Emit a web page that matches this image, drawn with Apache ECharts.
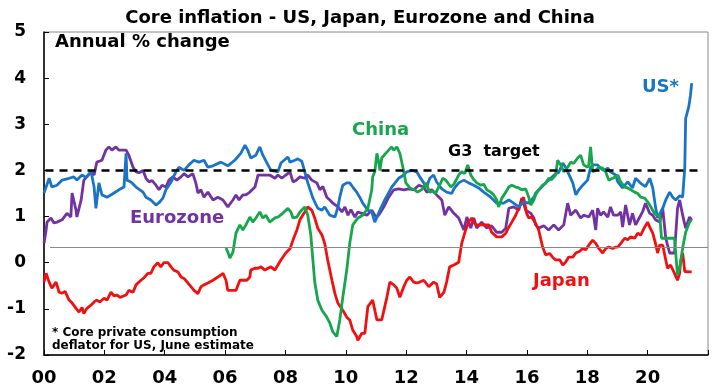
<!DOCTYPE html>
<html><head><meta charset="utf-8">
<script src="https://cdn.jsdelivr.net/npm/echarts@6/dist/echarts.min.js"></script>
<style>html,body{margin:0;padding:0;background:#fff}#c{width:720px;height:388px}</style>
</head><body><div id="c"></div>
<script>
const titleText = 'Core inflation - US, Japan, Eurozone and China';
const yTicks = [-2, -1, 0, 1, 2, 3, 4, 5];
const xTickYears = [2000, 2002, 2004, 2006, 2008, 2010, 2012, 2014, 2016, 2018, 2020];
const targetLevel = 2;
const refLevel = 0.33;

const usData = [[2000.00,1.51],[2000.17,1.83],[2000.26,1.64],[2000.43,1.68],[2000.60,1.79],[2000.83,1.83],[2000.99,1.86],[2001.09,1.79],[2001.26,1.90],[2001.39,1.85],[2001.56,1.97],[2001.66,1.64],[2001.72,1.18],[2001.82,1.73],[2001.92,1.47],[2002.09,1.42],[2002.32,1.51],[2002.48,1.58],[2002.65,1.64],[2002.72,2.37],[2002.75,1.79],[2002.88,1.75],[2003.05,1.64],[2003.28,1.53],[2003.38,1.42],[2003.54,1.36],[2003.71,1.25],[2003.81,1.30],[2003.94,1.40],[2004.04,1.58],[2004.21,1.75],[2004.37,1.97],[2004.47,2.07],[2004.64,2.00],[2004.80,2.12],[2004.97,2.22],[2005.13,2.18],[2005.30,2.22],[2005.43,2.07],[2005.60,2.10],[2005.86,2.18],[2006.09,2.10],[2006.32,2.22],[2006.52,2.37],[2006.66,2.55],[2006.75,2.44],[2006.85,2.27],[2007.02,2.33],[2007.15,2.51],[2007.25,2.33],[2007.42,2.12],[2007.52,2.00],[2007.75,1.97],[2007.85,2.16],[2008.08,2.29],[2008.15,2.18],[2008.31,2.22],[2008.41,2.25],[2008.54,2.20],[2008.64,1.97],[2008.74,1.73],[2008.91,1.40],[2009.07,1.18],[2009.21,1.14],[2009.30,1.21],[2009.47,1.03],[2009.64,0.99],[2009.74,1.21],[2009.80,1.42],[2009.90,1.68],[2010.03,1.73],[2010.13,1.73],[2010.23,1.64],[2010.36,1.53],[2010.46,1.42],[2010.56,1.29],[2010.73,1.14],[2010.86,1.10],[2010.96,0.88],[2011.13,1.14],[2011.29,1.36],[2011.52,1.64],[2011.75,1.83],[2011.92,1.90],[2012.02,1.97],[2012.19,2.00],[2012.35,1.97],[2012.45,1.86],[2012.58,1.73],[2012.68,1.64],[2012.78,1.83],[2012.91,1.90],[2013.01,1.75],[2013.18,1.60],[2013.34,1.53],[2013.51,1.50],[2013.58,1.60],[2013.74,1.73],[2013.91,1.79],[2014.07,1.73],[2014.24,1.68],[2014.40,1.62],[2014.57,1.53],[2014.80,1.42],[2015.00,1.29],[2015.23,1.29],[2015.40,1.36],[2015.56,1.29],[2015.73,1.21],[2015.89,1.32],[2016.06,1.29],[2016.23,1.42],[2016.29,1.51],[2016.46,1.62],[2016.62,1.73],[2016.79,1.83],[2016.95,1.93],[2017.05,1.95],[2017.19,2.16],[2017.28,2.07],[2017.38,1.93],[2017.52,1.73],[2017.62,1.47],[2017.72,1.58],[2017.85,1.68],[2018.01,1.79],[2018.11,2.07],[2018.21,2.12],[2018.34,2.12],[2018.44,2.05],[2018.54,2.00],[2018.68,2.05],[2018.77,1.97],[2018.94,1.90],[2019.01,1.75],[2019.17,1.62],[2019.34,1.75],[2019.50,1.62],[2019.60,1.83],[2019.77,1.72],[2019.93,1.65],[2020.07,1.83],[2020.17,1.62],[2020.26,1.21],[2020.33,0.97],[2020.50,1.18],[2020.60,1.36],[2020.73,1.53],[2020.83,1.42],[2020.93,1.36],[2021.06,1.45],[2021.16,1.42],[2021.23,2.05],[2021.26,3.13],[2021.36,3.37],[2021.42,3.63],[2021.46,3.89]];

const euroData = [[2000.00,0.42],[2000.07,0.71],[2000.10,0.88],[2000.23,0.97],[2000.33,0.86],[2000.43,0.88],[2000.60,0.93],[2000.76,1.07],[2000.89,0.99],[2000.93,1.51],[2001.06,1.14],[2001.09,0.99],[2001.23,1.36],[2001.32,1.79],[2001.42,1.86],[2001.56,1.97],[2001.66,1.90],[2001.75,2.18],[2001.92,2.22],[2002.05,2.44],[2002.15,2.51],[2002.25,2.44],[2002.38,2.51],[2002.48,2.44],[2002.65,2.44],[2002.72,2.44],[2002.81,2.33],[2002.95,2.07],[2003.05,1.97],[2003.15,1.95],[2003.28,2.00],[2003.38,1.83],[2003.48,1.75],[2003.58,1.78],[2003.71,1.68],[2003.81,1.58],[2003.91,1.68],[2004.04,1.64],[2004.14,1.79],[2004.27,1.86],[2004.40,1.79],[2004.54,1.86],[2004.64,1.93],[2004.77,1.86],[2004.93,1.93],[2005.03,1.73],[2005.10,1.51],[2005.20,1.58],[2005.30,1.42],[2005.43,1.53],[2005.60,1.36],[2005.76,1.42],[2005.93,1.36],[2006.09,1.21],[2006.26,1.36],[2006.36,1.47],[2006.46,1.36],[2006.59,1.47],[2006.69,1.47],[2006.82,1.53],[2006.99,1.64],[2007.09,1.90],[2007.25,1.90],[2007.48,1.90],[2007.65,1.83],[2007.75,1.90],[2007.88,1.83],[2008.01,1.90],[2008.15,1.97],[2008.25,1.75],[2008.34,1.78],[2008.48,1.86],[2008.64,1.83],[2008.74,1.90],[2008.87,1.79],[2009.04,1.73],[2009.14,1.58],[2009.24,1.65],[2009.37,1.42],[2009.47,1.36],[2009.57,1.29],[2009.74,1.21],[2009.87,1.10],[2009.97,1.21],[2010.07,1.03],[2010.17,1.15],[2010.30,0.99],[2010.40,1.10],[2010.53,1.07],[2010.70,1.03],[2010.86,1.14],[2010.96,1.03],[2011.03,0.99],[2011.13,1.07],[2011.26,1.21],[2011.42,1.42],[2011.59,1.58],[2011.75,1.60],[2011.92,1.58],[2012.09,1.60],[2012.25,1.58],[2012.42,1.68],[2012.58,1.64],[2012.68,1.53],[2012.85,1.58],[2013.01,1.47],[2013.18,1.36],[2013.28,1.03],[2013.41,1.21],[2013.58,1.07],[2013.74,0.97],[2013.91,0.71],[2014.01,0.99],[2014.14,0.75],[2014.24,0.97],[2014.34,0.75],[2014.50,0.88],[2014.67,0.75],[2014.83,0.80],[2015.00,0.66],[2015.17,0.66],[2015.30,0.75],[2015.40,1.18],[2015.56,1.21],[2015.73,1.14],[2015.83,1.40],[2015.96,1.14],[2016.13,1.07],[2016.23,0.97],[2016.29,0.82],[2016.39,0.75],[2016.56,0.80],[2016.72,0.71],[2016.89,0.82],[2017.05,0.71],[2017.22,0.82],[2017.35,1.29],[2017.45,1.03],[2017.62,1.14],[2017.78,0.97],[2017.88,1.03],[2018.05,0.99],[2018.18,1.14],[2018.28,0.71],[2018.34,1.18],[2018.44,1.03],[2018.54,1.10],[2018.68,0.99],[2018.77,1.21],[2018.87,1.03],[2019.01,1.03],[2019.11,1.10],[2019.17,0.77],[2019.27,1.25],[2019.40,0.82],[2019.50,1.07],[2019.60,0.82],[2019.74,0.99],[2019.83,1.10],[2019.93,1.29],[2020.07,1.07],[2020.17,1.03],[2020.26,0.93],[2020.40,0.88],[2020.50,1.18],[2020.60,0.53],[2020.73,0.21],[2020.89,0.21],[2020.99,1.18],[2021.06,1.36],[2021.16,1.03],[2021.26,0.75],[2021.39,0.99],[2021.46,0.92]];

const japanData = [[2000.00,-0.42],[2000.07,-0.23],[2000.17,-0.42],[2000.26,-0.55],[2000.40,-0.42],[2000.50,-0.64],[2000.60,-0.66],[2000.70,-0.62],[2000.83,-0.81],[2000.93,-0.87],[2001.06,-0.99],[2001.16,-1.07],[2001.26,-0.97],[2001.32,-1.10],[2001.42,-0.99],[2001.56,-0.92],[2001.66,-0.85],[2001.75,-0.81],[2001.85,-0.85],[2001.99,-0.77],[2002.09,-0.81],[2002.22,-0.64],[2002.32,-0.72],[2002.42,-0.70],[2002.52,-0.75],[2002.72,-0.70],[2002.81,-0.60],[2002.95,-0.64],[2003.05,-0.48],[2003.21,-0.38],[2003.31,-0.33],[2003.44,-0.23],[2003.54,-0.23],[2003.64,-0.09],[2003.77,0.00],[2003.87,-0.09],[2003.97,0.00],[2004.11,0.00],[2004.21,-0.09],[2004.30,-0.16],[2004.44,-0.20],[2004.54,-0.31],[2004.64,-0.34],[2004.77,-0.44],[2004.87,-0.52],[2004.97,-0.60],[2005.10,-0.67],[2005.20,-0.52],[2005.30,-0.48],[2005.43,-0.44],[2005.60,-0.38],[2005.76,-0.31],[2005.93,-0.23],[2006.03,-0.38],[2006.09,-0.60],[2006.26,-0.60],[2006.36,-0.60],[2006.49,-0.38],[2006.59,-0.38],[2006.72,-0.38],[2006.82,-0.31],[2006.85,-0.16],[2006.99,-0.12],[2007.09,-0.12],[2007.19,-0.09],[2007.32,-0.16],[2007.42,-0.12],[2007.52,-0.09],[2007.65,-0.16],[2007.75,-0.05],[2007.85,0.06],[2008.01,0.21],[2008.15,0.30],[2008.25,0.49],[2008.38,0.71],[2008.48,0.93],[2008.64,1.10],[2008.74,1.21],[2008.87,1.14],[2008.97,0.97],[2009.07,0.75],[2009.21,0.60],[2009.30,0.42],[2009.40,0.06],[2009.54,-0.38],[2009.64,-0.67],[2009.74,-0.88],[2009.90,-1.03],[2010.03,-1.18],[2010.13,-1.24],[2010.23,-1.46],[2010.36,-1.60],[2010.40,-1.68],[2010.53,-1.53],[2010.63,-1.53],[2010.73,-0.95],[2010.89,-0.81],[2011.03,-1.24],[2011.19,-1.24],[2011.36,-0.75],[2011.46,-0.42],[2011.59,-0.48],[2011.69,-0.55],[2011.79,-0.75],[2011.92,-0.52],[2012.02,-0.38],[2012.12,-0.31],[2012.25,-0.42],[2012.35,-0.44],[2012.45,-0.42],[2012.58,-0.38],[2012.75,-0.52],[2012.91,-0.42],[2013.01,-0.46],[2013.11,-0.75],[2013.25,-0.64],[2013.34,-0.42],[2013.44,-0.09],[2013.58,-0.05],[2013.74,0.01],[2013.84,0.42],[2013.97,0.71],[2014.07,0.88],[2014.17,0.97],[2014.30,0.82],[2014.57,0.82],[2014.74,0.82],[2014.83,0.66],[2015.00,0.56],[2015.17,0.56],[2015.30,0.64],[2015.40,0.77],[2015.50,0.88],[2015.63,1.03],[2015.73,1.18],[2015.83,1.36],[2015.89,1.42],[2015.99,1.07],[2016.06,0.97],[2016.16,0.99],[2016.29,0.85],[2016.39,0.71],[2016.52,0.34],[2016.62,0.17],[2016.75,0.20],[2016.85,0.12],[2016.95,0.06],[2017.09,0.06],[2017.19,-0.05],[2017.28,0.01],[2017.38,0.12],[2017.52,0.12],[2017.62,0.21],[2017.75,0.25],[2017.85,0.31],[2017.95,0.28],[2018.05,0.38],[2018.18,0.49],[2018.28,0.42],[2018.38,0.31],[2018.51,0.21],[2018.61,0.31],[2018.71,0.34],[2018.84,0.31],[2018.94,0.34],[2019.01,0.34],[2019.11,0.42],[2019.24,0.53],[2019.34,0.50],[2019.44,0.56],[2019.57,0.53],[2019.67,0.64],[2019.77,0.60],[2019.90,0.77],[2020.00,0.88],[2020.07,0.77],[2020.17,0.64],[2020.26,0.42],[2020.33,0.21],[2020.40,0.38],[2020.50,0.38],[2020.60,0.06],[2020.66,-0.12],[2020.76,-0.05],[2020.89,-0.23],[2020.99,-0.38],[2021.06,-0.23],[2021.09,0.01],[2021.16,0.21],[2021.23,-0.19],[2021.39,-0.20],[2021.46,-0.20]];

const chinaData = [[2006.03,0.32],[2006.09,0.23],[2006.16,0.10],[2006.26,0.23],[2006.36,0.64],[2006.49,0.82],[2006.59,0.71],[2006.69,0.82],[2006.82,0.99],[2006.92,0.88],[2007.02,0.97],[2007.15,1.10],[2007.25,0.97],[2007.35,1.03],[2007.48,0.88],[2007.65,0.97],[2007.75,0.99],[2007.91,1.07],[2008.08,1.18],[2008.18,1.10],[2008.25,0.97],[2008.38,0.99],[2008.48,1.10],[2008.64,1.21],[2008.74,1.03],[2008.84,0.60],[2008.97,-0.42],[2009.07,-0.81],[2009.21,-1.03],[2009.37,-1.18],[2009.47,-1.31],[2009.57,-1.50],[2009.70,-1.60],[2009.80,-1.24],[2009.90,-0.75],[2010.03,-0.16],[2010.13,0.42],[2010.23,0.82],[2010.40,0.97],[2010.56,1.03],[2010.73,1.18],[2010.86,1.58],[2010.89,1.86],[2010.96,1.97],[2011.03,2.37],[2011.09,2.18],[2011.13,2.00],[2011.19,2.27],[2011.32,2.37],[2011.42,2.44],[2011.52,2.51],[2011.59,2.44],[2011.69,2.51],[2011.79,2.37],[2011.89,2.07],[2011.99,1.73],[2012.12,1.62],[2012.28,1.58],[2012.38,1.53],[2012.55,1.60],[2012.65,1.73],[2012.78,1.53],[2012.88,1.55],[2012.97,1.50],[2013.11,1.68],[2013.21,1.83],[2013.31,1.79],[2013.48,1.64],[2013.58,1.70],[2013.74,1.90],[2013.84,1.97],[2013.94,1.93],[2014.04,2.12],[2014.14,1.90],[2014.24,1.80],[2014.34,1.73],[2014.47,1.68],[2014.57,1.70],[2014.67,1.58],[2014.80,1.53],[2014.90,1.47],[2015.00,1.36],[2015.06,1.21],[2015.17,1.40],[2015.30,1.53],[2015.40,1.64],[2015.50,1.68],[2015.63,1.64],[2015.73,1.62],[2015.83,1.58],[2015.96,1.60],[2016.06,1.42],[2016.13,1.25],[2016.23,1.36],[2016.29,1.47],[2016.39,1.58],[2016.52,1.68],[2016.62,1.72],[2016.72,1.83],[2016.82,1.80],[2016.95,1.90],[2017.02,2.22],[2017.12,2.12],[2017.22,1.97],[2017.35,2.07],[2017.45,2.18],[2017.55,2.15],[2017.68,2.27],[2017.78,2.33],[2017.88,2.12],[2018.01,2.07],[2018.05,2.12],[2018.11,2.51],[2018.18,1.97],[2018.28,2.00],[2018.38,2.07],[2018.51,2.05],[2018.61,1.97],[2018.71,1.79],[2018.84,1.83],[2018.94,1.86],[2019.01,1.90],[2019.11,1.75],[2019.24,1.64],[2019.34,1.62],[2019.44,1.58],[2019.57,1.53],[2019.67,1.50],[2019.77,1.42],[2019.90,1.40],[2020.00,1.32],[2020.07,1.25],[2020.20,1.10],[2020.30,1.03],[2020.40,1.03],[2020.46,0.53],[2020.60,0.53],[2020.76,0.53],[2020.89,0.53],[2020.99,-0.27],[2021.06,-0.12],[2021.16,0.32],[2021.26,0.66],[2021.39,0.88],[2021.46,0.93]];

const FONT = 'DejaVu Sans';
const C_US = '#1a74c6', C_EU = '#7232a2', C_JP = '#f01010', C_CN = '#16a64c';

const chart = echarts.init(document.getElementById('c'), null, {renderer: 'canvas'});
function txt(t, x, y, size, color) {
  return {type: 'text', left: x, top: y - size * 0.6, style: {text: t, fill: color, font: 'bold ' + size + 'px "' + FONT + '"'}};
}
chart.setOption({
  animation: false,
  backgroundColor: '#fff',
  title: {text: titleText, left: 'center', top: 4, textStyle: {fontFamily: FONT, fontWeight: 'bold', fontSize: 18, color: '#000'}},
  grid: {left: 44, right: 12, top: 32, bottom: 33, show: true, borderColor: '#888', borderWidth: 1},
  xAxis: {
    type: 'value', min: 2000, max: 2022, interval: 2,
    axisLine: {show: true, onZero: false, lineStyle: {color: '#000', width: 1.5}},
    axisTick: {show: true, inside: true, length: 5, lineStyle: {color: '#000', width: 1}},
    splitLine: {show: false},
    axisLabel: {margin: 14, fontFamily: FONT, fontWeight: 'bold', fontSize: 18, color: '#000',
      formatter: v => xTickYears.indexOf(v) >= 0 ? String(v % 100).padStart(2, '0') : ''}
  },
  yAxis: {
    type: 'value', min: yTicks[0], max: yTicks[yTicks.length - 1], interval: 1,
    axisLine: {show: true, lineStyle: {color: '#000', width: 1.5}},
    axisTick: {show: true, inside: true, length: 5, lineStyle: {color: '#000', width: 1}},
    splitLine: {show: false},
    axisLabel: {margin: 18, fontFamily: FONT, fontWeight: 'bold', fontSize: 17, color: '#000'}
  },
  series: [
    {name: 'ref', type: 'line', data: [], markLine: {silent: true, symbol: 'none', label: {show: false},
      lineStyle: {color: '#888', width: 1, type: 'solid'},
      data: [[{coord: [2000.2, refLevel]}, {coord: [2022, refLevel]}]]}},
    {name: 'target', type: 'line', data: [], markLine: {silent: true, symbol: 'none', label: {show: false},
      lineStyle: {color: '#000', width: 2.5, type: [8, 6]},
      data: [[{coord: [2000.05, targetLevel]}, {coord: [2021.7, targetLevel]}]]}},
    {name: 'Eurozone', type: 'line', data: euroData, showSymbol: false, lineStyle: {color: C_EU, width: 2.8}, itemStyle: {color: C_EU}},
    {name: 'Japan', type: 'line', data: japanData, showSymbol: false, lineStyle: {color: C_JP, width: 2.8}, itemStyle: {color: C_JP}},
    {name: 'US', type: 'line', data: usData, showSymbol: false, lineStyle: {color: C_US, width: 2.8}, itemStyle: {color: C_US}},
    {name: 'China', type: 'line', data: chinaData, showSymbol: false, lineStyle: {color: C_CN, width: 2.8}, itemStyle: {color: C_CN}}
  ],
  graphic: [
    txt('Annual % change', 55, 44, 18, '#000'),
    txt('US*', 642, 89, 18, C_US),
    txt('China', 352, 132, 18, C_CN),
    txt('G3  target', 448, 153, 16, '#000'),
    txt('Eurozone', 130, 220, 18, C_EU),
    txt('Japan', 533, 283, 18, C_JP),
    txt('* Core private consumption', 52, 334, 12, '#000'),
    txt('deflator for US, June estimate', 52, 347, 12, '#000')
  ]
});
</script></body></html>
